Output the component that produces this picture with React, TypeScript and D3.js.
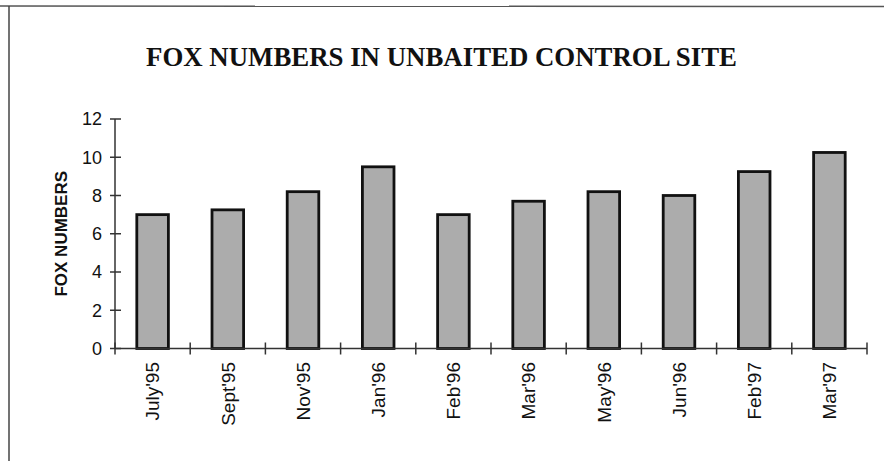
import React from "react";
import * as d3 from "d3";

const categories = ["July'95", "Sept'95", "Nov'95", "Jan'96", "Feb'96", "Mar'96", "May'96", "Jun'96", "Feb'97", "Mar'97"];
const foxNumbers = [7.0, 7.25, 8.2, 9.5, 7.0, 7.7, 8.2, 8.0, 9.25, 10.25];
const yTicks = [0, 2, 4, 6, 8, 10, 12];

const W = 884;
const H = 461;
const plot = { left: 115, right: 867, top: 119, bottom: 348.5 };

export default function App() {
  const x = d3
    .scaleBand<string>()
    .domain(categories)
    .range([plot.left, plot.right])
    .paddingInner(0.58)
    .paddingOuter(0.29);
  const y = d3.scaleLinear().domain([0, 12]).range([plot.bottom, plot.top]);
  const step = x.step();
  const boundaries = d3.range(categories.length + 1).map((i) => plot.left + i * step);

  return (
    <svg
      width={W}
      height={H}
      style={{ position: "absolute", left: 0, top: 0, background: "#fff" }}
    >
      {/* outer frame: top and left edges */}
      <line x1={0} y1={6} x2={W} y2={6.5} stroke="#555" strokeWidth={1.5} />
      <line x1={9} y1={6} x2={9} y2={H} stroke="#444" strokeWidth={1.5} />

      <text
        x={441.5}
        y={66}
        textAnchor="middle"
        fontFamily="'Liberation Serif', 'Times New Roman', serif"
        fontWeight="bold"
        fontSize={27}
        textLength={591}
        lengthAdjust="spacingAndGlyphs"
        fill="#111"
      >
        FOX NUMBERS IN UNBAITED CONTROL SITE
      </text>

      {/* y axis */}
      <line x1={plot.left} y1={plot.top} x2={plot.left} y2={plot.bottom} stroke="#333" strokeWidth={1.5} />
      {yTicks.map((t) => (
        <g key={t}>
          <line x1={plot.left - 5} x2={plot.left + 6} y1={y(t)} y2={y(t)} stroke="#333" strokeWidth={1.5} />
          <text
            x={plot.left - 13}
            y={y(t)}
            dy="0.36em"
            textAnchor="end"
            fontFamily="'Liberation Sans', Arial, sans-serif"
            fontSize={18}
            fill="#111"
          >
            {t}
          </text>
        </g>
      ))}
      <text
        transform={`translate(67, ${y(6)}) rotate(-90)`}
        textAnchor="middle"
        fontFamily="'Liberation Sans', Arial, sans-serif"
        fontWeight="bold"
        fontSize={17}
        fill="#111"
      >
        FOX NUMBERS
      </text>

      {/* bars */}
      {categories.map((c, i) => (
        <rect
          key={c}
          x={x(c)}
          y={y(foxNumbers[i])}
          width={x.bandwidth()}
          height={y(0) - y(foxNumbers[i])}
          fill="#acacac"
          stroke="#111"
          strokeWidth={2.8}
        />
      ))}

      {/* x axis */}
      <line x1={plot.left} y1={plot.bottom} x2={plot.right} y2={plot.bottom} stroke="#333" strokeWidth={1.5} />
      {boundaries.map((bx, i) => (
        <line key={i} x1={bx} x2={bx} y1={plot.bottom - 6} y2={plot.bottom + 6} stroke="#333" strokeWidth={1.5} />
      ))}
      {categories.map((c) => (
        <text
          key={c}
          transform={`translate(${(x(c) ?? 0) + x.bandwidth() / 2}, 362) rotate(-90)`}
          dy="0.36em"
          textAnchor="end"
          fontFamily="'Liberation Sans', Arial, sans-serif"
          fontSize={19}
          fill="#111"
        >
          {c}
        </text>
      ))}
    </svg>
  );
}
